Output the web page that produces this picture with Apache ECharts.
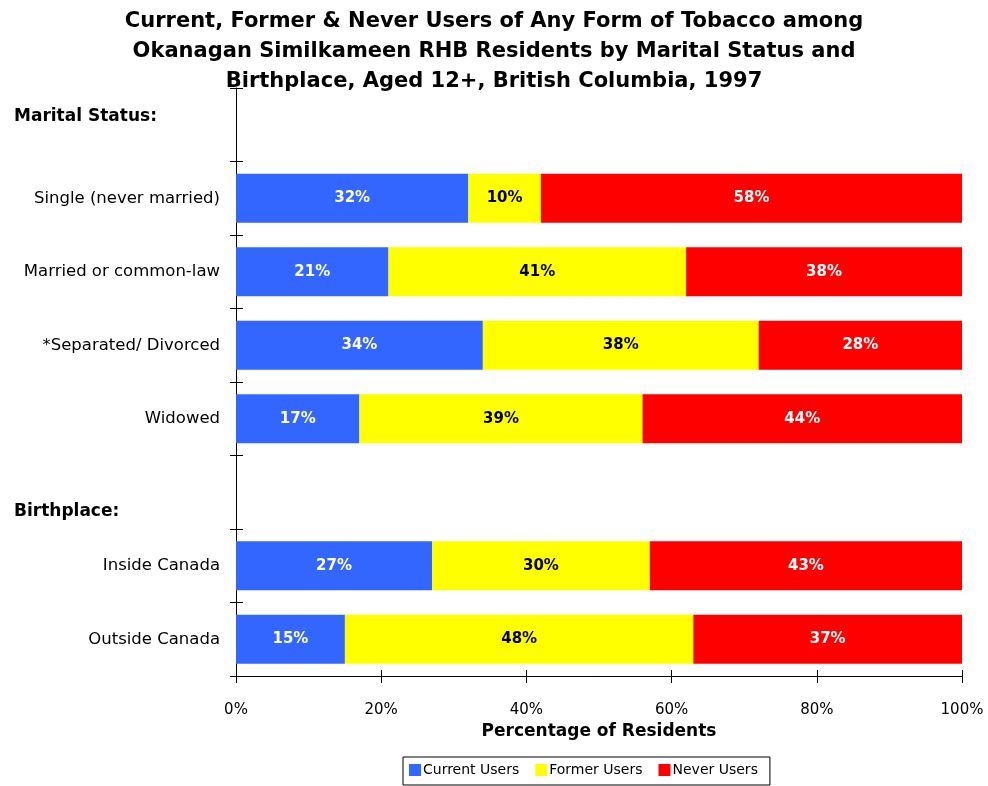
<!DOCTYPE html>
<html>
<head>
<meta charset="utf-8">
<title>Tobacco use by marital status and birthplace</title>
<script src="https://cdn.jsdelivr.net/npm/echarts@6/dist/echarts.min.js"></script>
<style>
    html, body { margin: 0; padding: 0; background: #fff; }
    #tobacco_chart { width: 988px; height: 786px; }
</style>
</head>
<body>
<div id="tobacco_chart"></div>
<script>
// Chart data
// ------------------------------

// Rows top to bottom, empty rows hold the section headers
var categories = ['', 'Single (never married)', 'Married or common-law', '*Separated/ Divorced', 'Widowed', '', 'Inside Canada', 'Outside Canada'];
var sectionHeaders = ['Marital Status:', 'Birthplace:'];
var seriesNames = ['Current Users', 'Former Users', 'Never Users'];
var currentUsers = ['-', 32, 21, 34, 17, '-', 27, 15];
var formerUsers = ['-', 10, 41, 38, 39, '-', 30, 48];
var neverUsers = ['-', 58, 38, 28, 44, '-', 43, 37];
var xTicks = [0, 20, 40, 60, 80, 100];


// Setup chart
// ------------------------------

var fontFamily = '"DejaVu Sans", Verdana, sans-serif';
var chartElement = document.getElementById('tobacco_chart');
var chart = echarts.init(chartElement, null, { renderer: 'canvas' });

// Common bar label
var barLabel = function(color) {
    return {
        show: true,
        position: 'inside',
        formatter: '{c}%',
        color: color,
        fontFamily: fontFamily,
        fontWeight: 'bold',
        fontSize: 15
    };
};

var makeSeries = function(name, values, color, labelColor) {
    return {
        name: name,
        type: 'bar',
        stack: 'total',
        barWidth: '67%',
        itemStyle: { color: color },
        label: barLabel(labelColor),
        data: values
    };
};

chart.setOption({
    animation: false,
    textStyle: { fontFamily: fontFamily, color: '#000' },

    title: {
        text: 'Current, Former & Never Users of Any Form of Tobacco among\nOkanagan Similkameen RHB Residents by Marital Status and\nBirthplace, Aged 12+, British Columbia, 1997',
        left: 'center',
        top: 2,
        padding: [5, 0, 5, 10],
        textStyle: {
            fontFamily: fontFamily,
            fontWeight: 'bold',
            fontSize: 21,
            lineHeight: 30,
            color: '#000'
        }
    },

    legend: {
        data: seriesNames,
        left: 403,
        top: 757,
        padding: [6, 12, 8, 6],
        borderColor: '#000',
        borderWidth: 1,
        itemWidth: 12,
        itemHeight: 12,
        itemGap: 16,
        icon: 'rect',
        textStyle: { fontFamily: fontFamily, fontSize: 14, color: '#000', padding: [0, 0, 0, -3] }
    },

    grid: {
        left: 236,
        right: 26,
        top: 88,
        bottom: 110
    },

    xAxis: [{
        type: 'value',
        min: 0,
        max: 100,
        interval: 20,
        name: 'Percentage of Residents',
        nameLocation: 'middle',
        nameGap: 44,
        nameTextStyle: { fontFamily: fontFamily, fontWeight: 'bold', fontSize: 17, color: '#000' },
        axisLine: { show: true, lineStyle: { color: '#000', width: 1 } },
        axisTick: { show: true, length: 7, lineStyle: { color: '#000' } },
        axisLabel: {
            margin: 27,
            fontSize: 15,
            color: '#000',
            fontFamily: fontFamily,
            formatter: function(v) { return xTicks.indexOf(v) >= 0 ? v + '%' : ''; }
        },
        splitLine: { show: false }
    }, {
        // inner half of the crossing ticks
        type: 'value',
        position: 'bottom',
        min: 0,
        max: 100,
        interval: 20,
        axisLine: { show: false },
        axisTick: { show: true, inside: true, length: 6, lineStyle: { color: '#000' } },
        axisLabel: { show: false },
        splitLine: { show: false }
    }],

    yAxis: [{
        type: 'category',
        inverse: true,
        data: categories,
        axisLine: { show: true, lineStyle: { color: '#000', width: 1 } },
        axisTick: { show: true, length: 6, lineStyle: { color: '#000' } },
        axisLabel: { margin: 16, fontSize: 16.5, color: '#000', fontFamily: fontFamily },
        splitLine: { show: false }
    }, {
        type: 'category',
        inverse: true,
        position: 'left',
        data: categories,
        axisLine: { show: false },
        axisTick: { show: true, inside: true, length: 7, lineStyle: { color: '#000' } },
        axisLabel: { show: false },
        splitLine: { show: false }
    }],

    graphic: [{
        type: 'text',
        left: 14,
        top: 108,
        style: { text: sectionHeaders[0], font: 'bold 17px ' + fontFamily, fill: '#000' }
    }, {
        type: 'text',
        left: 14,
        top: 503,
        style: { text: sectionHeaders[1], font: 'bold 17px ' + fontFamily, fill: '#000' }
    }],

    series: [
        makeSeries(seriesNames[0], currentUsers, '#3366FF', '#fff'),
        makeSeries(seriesNames[1], formerUsers, '#FFFF00', '#000'),
        makeSeries(seriesNames[2], neverUsers, '#FF0000', '#fff')
    ]
});

window.addEventListener('resize', function() {
    chart.resize();
});
</script>
</body>
</html>
